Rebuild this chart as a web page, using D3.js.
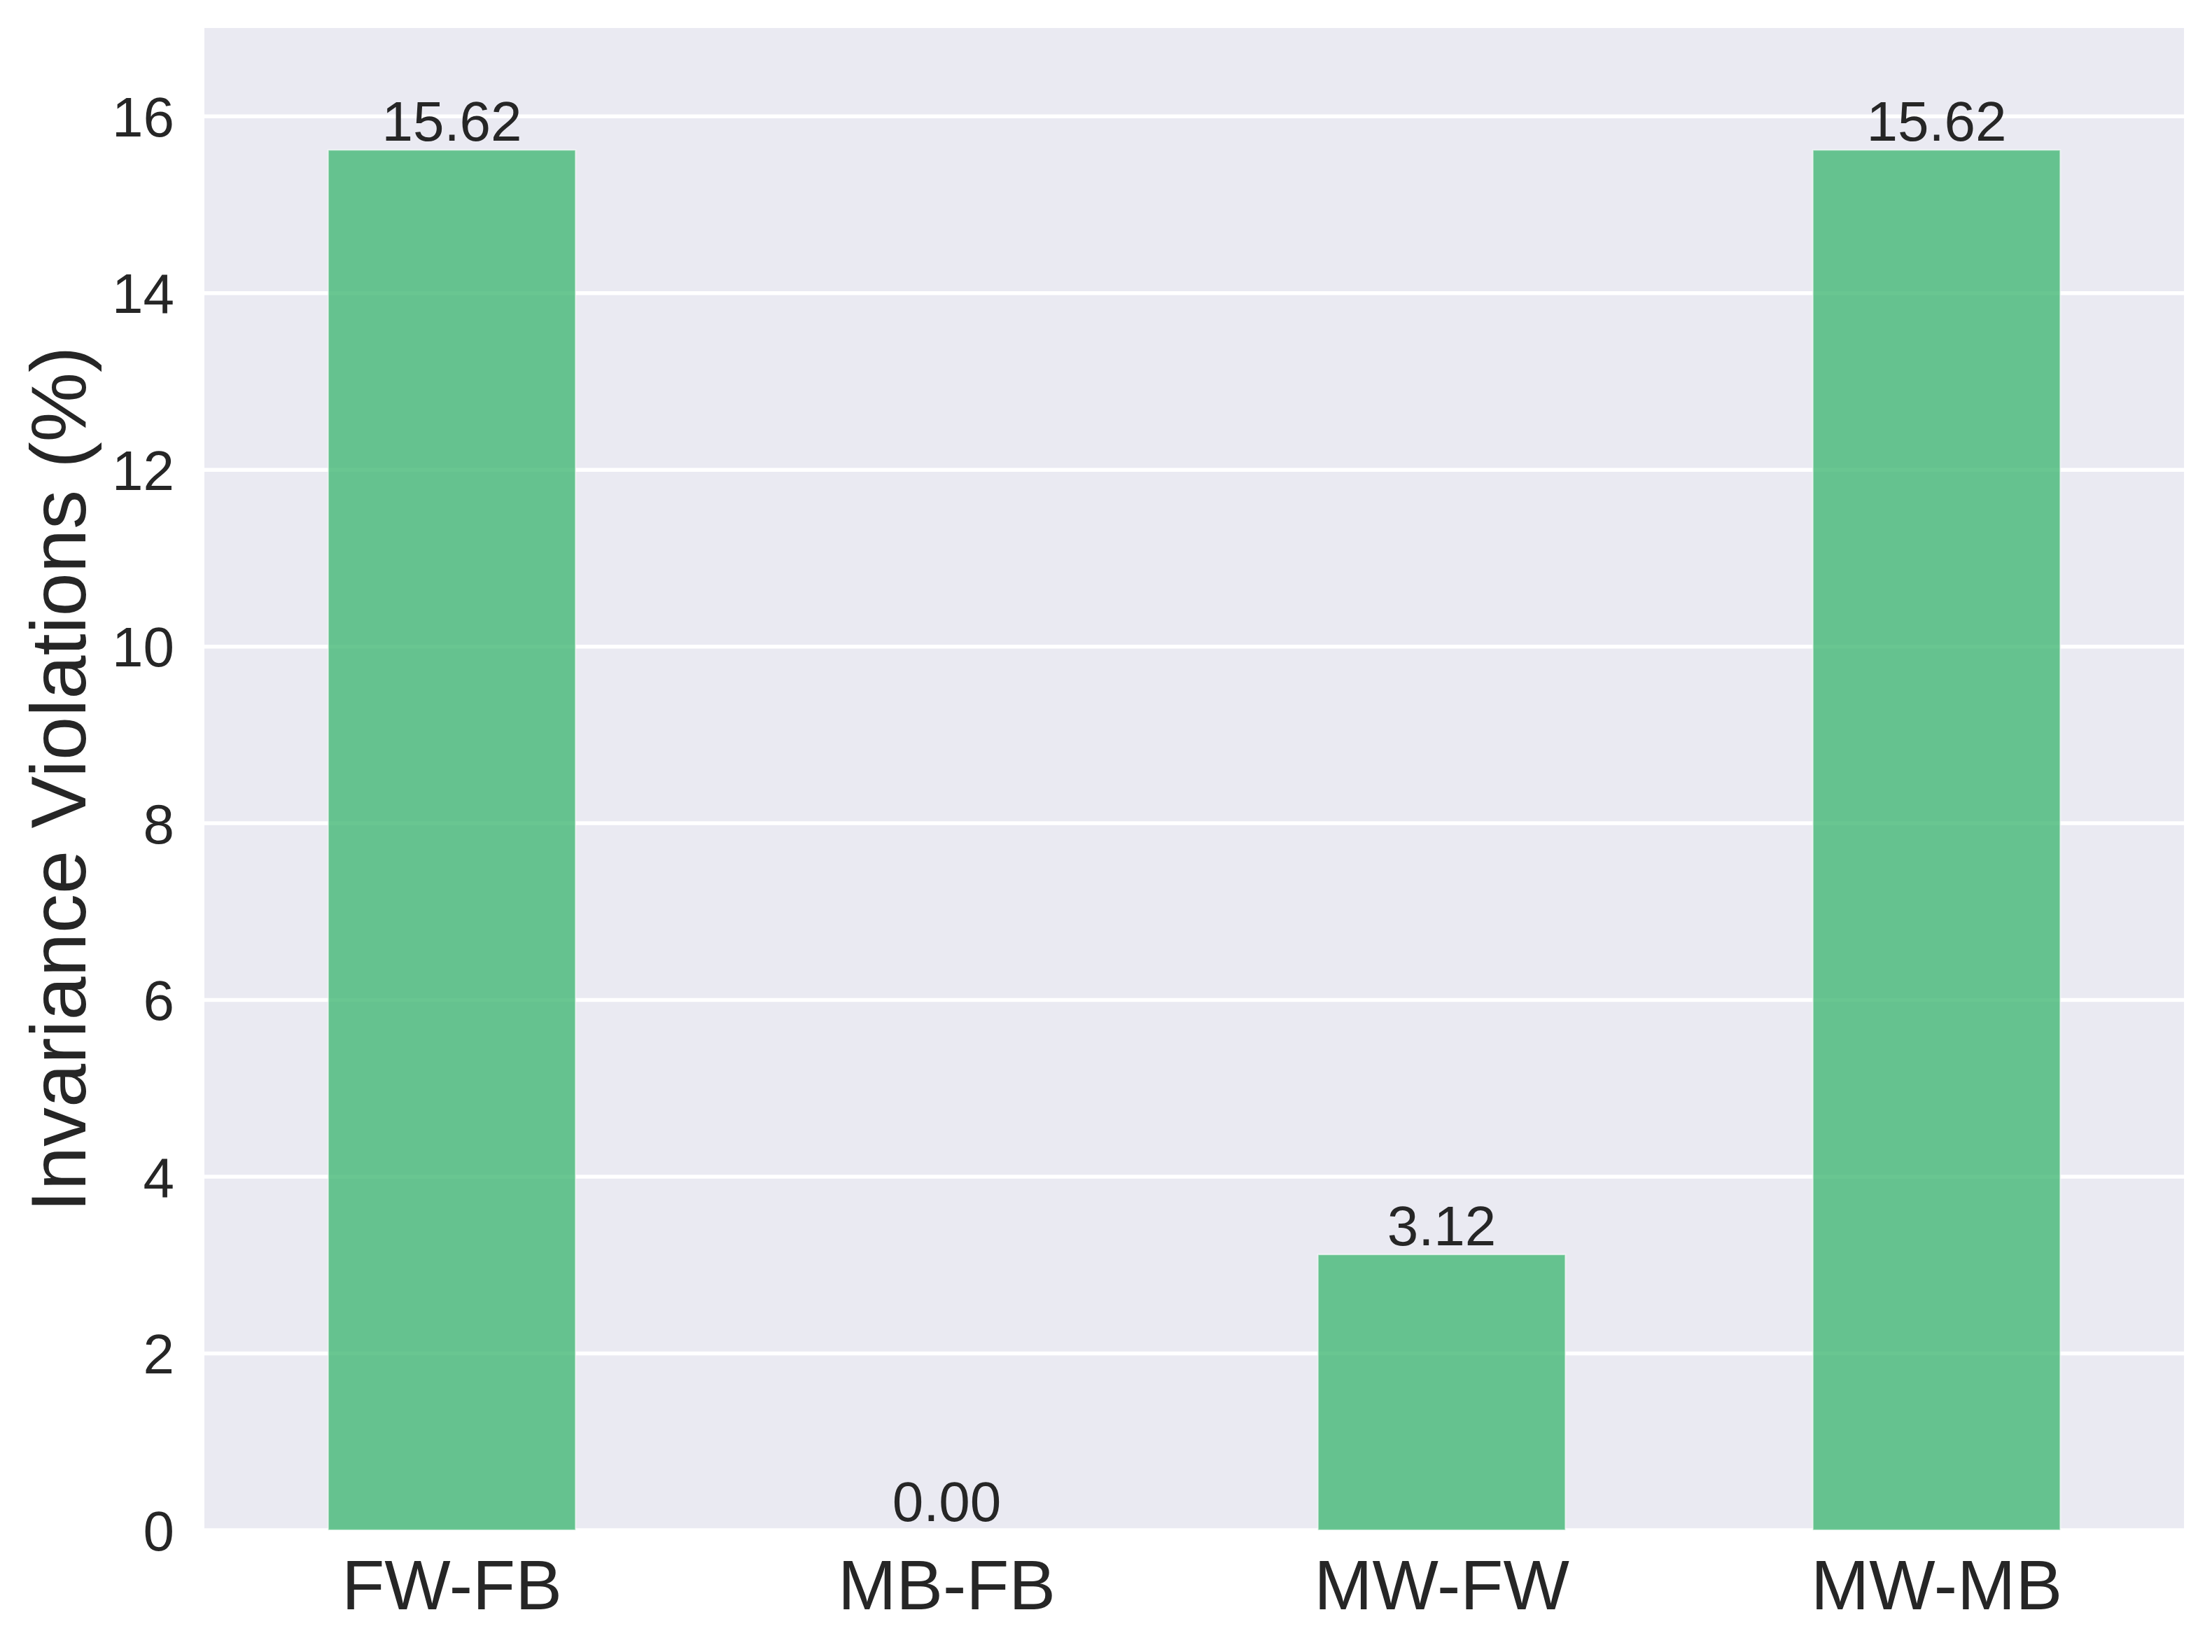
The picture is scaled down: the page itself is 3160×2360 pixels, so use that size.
<!DOCTYPE html>
<html>
<head>
<meta charset="utf-8">
<script src="https://cdn.jsdelivr.net/npm/d3@7"></script>
<style>
  html, body { margin: 0; padding: 0; background: #ffffff; }
  svg { display: block; }
</style>
</head>
<body>
<script>
const categories = ["FW-FB", "MB-FB", "MW-FW", "MW-MB"];
const values = [15.62, 0.00, 3.12, 15.62];
const yTicks = [0, 2, 4, 6, 8, 10, 12, 14, 16];
const yLabel = "Invariance Violations (%)";

const W = 3160, H = 2360;
const margin = { left: 292, right: 40, top: 40, bottom: 174 };
const plotW = W - margin.left - margin.right;
const plotH = H - margin.top - margin.bottom;
const font = "'Liberation Sans', Arial, sans-serif";
const textColor = "#262626";

const svg = d3.select("body").append("svg")
  .attr("width", W).attr("height", H)
  .attr("font-family", font);

const g = svg.append("g").attr("transform", `translate(${margin.left},${margin.top})`);

const x = d3.scaleBand().domain(categories).range([0, plotW])
  .paddingInner(0.5).paddingOuter(0.25);
const y = d3.scaleLinear().domain([0, 17]).range([plotH, 0]);

// background
g.append("rect").attr("width", plotW).attr("height", plotH).attr("fill", "#EAEAF2");

// gridlines
g.append("g").selectAll("line").data(yTicks).join("line")
  .attr("x1", 0).attr("x2", plotW)
  .attr("y1", d => y(d)).attr("y2", d => y(d))
  .attr("stroke", "#ffffff").attr("stroke-width", 5.5);

// bars
g.append("g").selectAll("rect").data(values).join("rect")
  .attr("x", (d, i) => x(categories[i]))
  .attr("y", d => y(d))
  .attr("width", x.bandwidth())
  .attr("height", d => y(0) - y(d))
  .attr("fill", "#43B875").attr("fill-opacity", 0.8)
  .attr("stroke", "#ffffff").attr("stroke-opacity", 0.6).attr("stroke-width", 2);

// bar labels
g.append("g").selectAll("text").data(values).join("text")
  .attr("x", (d, i) => x(categories[i]) + x.bandwidth() / 2)
  .attr("y", d => y(d) - 13)
  .attr("text-anchor", "middle")
  .attr("font-size", 80)
  .attr("fill", textColor)
  .text(d => d.toFixed(2));

// y axis
const yAxis = g.append("g").call(d3.axisLeft(y).tickValues(yTicks).tickSize(0).tickPadding(43).tickFormat(d3.format("d")));
yAxis.select(".domain").remove();
yAxis.selectAll("text").attr("font-size", 80).attr("fill", textColor).attr("font-family", font).attr("dy", "0.35em");

// x axis
const xAxis = g.append("g").attr("transform", `translate(0,${plotH})`)
  .call(d3.axisBottom(x).tickSize(0).tickPadding(42));
xAxis.select(".domain").remove();
xAxis.selectAll("text").attr("font-size", 100).attr("fill", textColor).attr("font-family", font).attr("dy", "0.71em");

// y label
svg.append("text")
  .attr("transform", `translate(122,${margin.top + plotH / 2}) rotate(-90)`)
  .attr("text-anchor", "middle")
  .attr("font-size", 112)
  .attr("fill", textColor)
  .text(yLabel);
</script>
</body>
</html>
